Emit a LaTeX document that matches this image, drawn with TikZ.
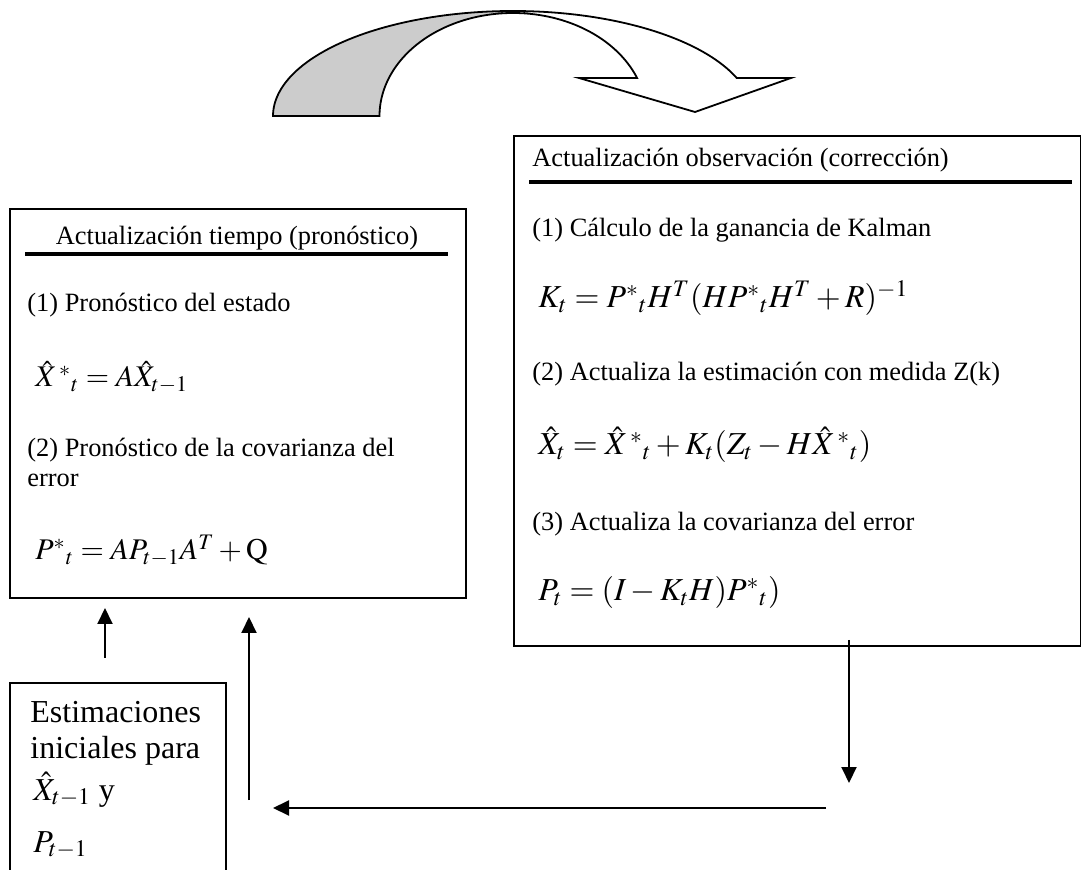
\documentclass[tikz,border=0pt]{standalone}
\usepackage{mathptmx}
\usepackage{fontspec}
\setmainfont{Liberation Serif}
\usetikzlibrary{arrows.meta}
\definecolor{ribbongray}{RGB}{204,204,204}
\begin{document}
\begin{tikzpicture}[x=0.5pt,y=-0.5pt,
  box/.style={draw,line width=1pt,inner sep=0pt,anchor=north west},
  txt/.style={anchor=base west,inner sep=0pt,font=\fontsize{13.2}{15}\selectfont},
  eq/.style={anchor=base west,inner sep=0pt,font=\fontsize{15}{17}\selectfont},
  eqr/.style={anchor=base west,inner sep=0pt,font=\fontsize{16}{18}\selectfont},
  big/.style={anchor=base west,inner sep=0pt,font=\fontsize{16}{18}\selectfont},
  arr/.style={-{Triangle[length=8pt,width=7.5pt]},line width=1pt},
  rule/.style={line width=1.6pt},
  ribbon/.style={line width=0.9pt,line join=miter}]
\useasboundingbox (0,0) rectangle (1081,870);

% curved arrow
\filldraw[ribbon,fill=ribbongray]
  plot[domain=180:90,samples=60] ({513+240*cos(\x)},{116-105*sin(\x)})
  -- plot[domain=90:180,samples=60] ({513+133.5*cos(\x)},{116-103*sin(\x)})
  -- cycle;
\draw[ribbon]
  plot[domain=90:21.65,samples=60] ({513+133.5*cos(\x)},{116-103*sin(\x)})
  -- (579,78) -- (695,112) -- (791,78)
  -- plot[domain=21.2:90,samples=60] ({513+240*cos(\x)},{116-105*sin(\x)});

% boxes
\node[box,minimum width=228pt,minimum height=194.5pt] (pred) at (9,208) {};
\node[box,minimum width=283.5pt,minimum height=255pt] (corr) at (513,135) {};
\node[box,minimum width=108pt,minimum height=104pt] (init) at (9,682) {};

% left box contents
\node[txt,anchor=base] (ptitle) at (237,245) {Actualización tiempo (pronóstico)};
\draw[rule] (25,254) -- (448,254);
\node[txt] (p1) at (27,312) {(1) Pronóstico del estado};
\node[eq] (pe1) at (35,387) {$\hat{X}^{\,*}{}_{t}= A\hat{X}_{t-1}$};
\node[txt] (p2) at (27,457) {(2) Pronóstico de la covarianza del};
\node[txt] (p2b) at (27,487) {error};
\node[eq] (pe2) at (35,560) {$P^{*}{}_{t}= AP_{t-1}A^{T}+\mathrm{Q}$};

% right box contents
\node[txt] (ctitle) at (532,167) {Actualización observación (corrección)};
\draw[rule] (529,182) -- (1072,182);
\node[txt] (c1) at (532,237) {(1) Cálculo de la ganancia de Kalman};
\node[eqr] (ce1) at (538,308) {$K_{t}= P^{*}{}_{t}H^{T}(HP^{*}{}_{t}H^{T}+R)^{-1}$};
\node[txt] (c2) at (532,381) {(2) Actualiza la estimación con medida Z(k)};
\node[eqr] (ce2) at (538,455) {$\hat{X}_{t}= \hat{X}^{\,*}{}_{t}+K_{t}(Z_{t}-H\hat{X}^{\,*}{}_{t})$};
\node[txt] (c3) at (532,531) {(3) Actualiza la covarianza del error};
\node[eqr] (ce3) at (538,601) {$P_{t}= (I-K_{t}H)P^{*}{}_{t})$};

% init box contents
\node[big] (i1) at (30,722) {Estimaciones};
\node[big] (i2) at (30,758) {iniciales para};
\node[big] (i3) at (33,800) {$\hat{X}_{t-1}$ y};
\node[big] (i4) at (33,852) {$P_{t-1}$};

% connectors
\coordinate (a1s) at (105,658);
\coordinate (a1e) at (105,608);
\coordinate (a2s) at (249,800);
\coordinate (a2e) at (249,617);
\coordinate (a3s) at (826,808);
\coordinate (a3e) at (273,808);
\coordinate (a4s) at (849,640);
\coordinate (a4e) at (849,783);
\draw[arr] (a1s) -- (a1e);
\draw[arr] (a2s) -- (a2e);
\draw[arr] (a3s) -- (a3e);
\draw[arr] (a4s) -- (a4e);
\end{tikzpicture}
\end{document}
